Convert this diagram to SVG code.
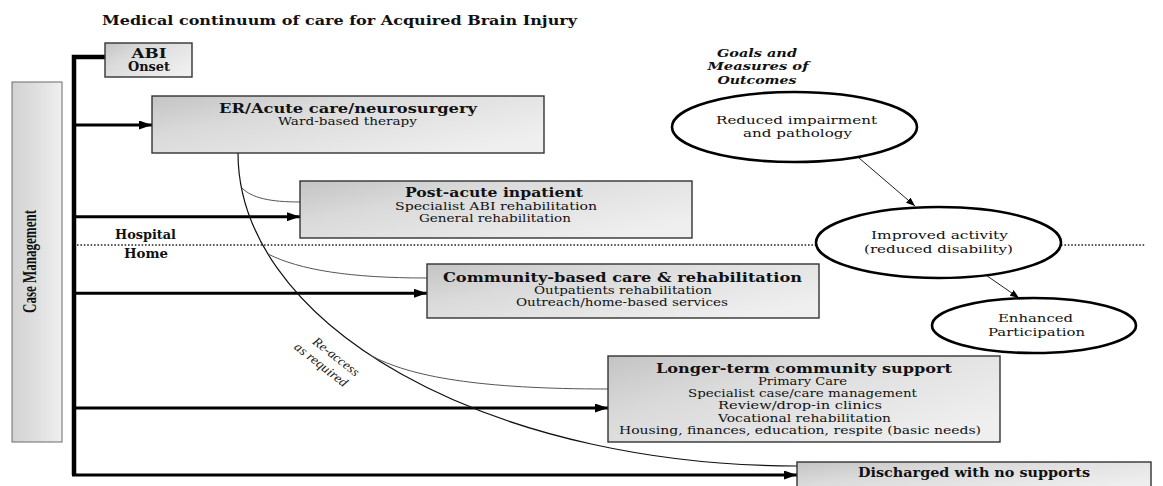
<svg xmlns="http://www.w3.org/2000/svg" width="1163" height="486" viewBox="0 0 1163 486">
<defs>
<linearGradient id="boxGrad" x1="0" y1="0" x2="1" y2="0.7">
<stop offset="0" stop-color="#c4c4c4"/>
<stop offset="0.35" stop-color="#dadada"/>
<stop offset="1" stop-color="#efefef"/>
</linearGradient>
<linearGradient id="cmGrad" x1="0" y1="0" x2="1" y2="0">
<stop offset="0" stop-color="#d2d2d2"/>
<stop offset="0.6" stop-color="#e2e2e2"/>
<stop offset="1" stop-color="#f0f0f0"/>
</linearGradient>
<marker id="bigArrow" markerUnits="userSpaceOnUse" markerWidth="14" markerHeight="9" refX="13" refY="4.5" orient="auto">
<path d="M0,0 L13,4.5 L0,9 z" fill="#000"/>
</marker>
<marker id="smallArrow" markerUnits="userSpaceOnUse" markerWidth="10" markerHeight="7" refX="9" refY="3.5" orient="auto">
<path d="M0,0 L9,3.5 L0,7 z" fill="#000"/>
</marker>
</defs>
<style>
.box{fill:url(#boxGrad);stroke:#333;stroke-width:1.4}
.ell{fill:#fff;stroke:#000;stroke-width:2.6}
.hd{font-family:"DejaVu Serif","Liberation Serif",serif;font-weight:bold;font-size:12px;fill:#111}
.tx{font-family:"DejaVu Serif","Liberation Serif",serif;font-size:11px;fill:#111}
.gl{font-family:"DejaVu Serif","Liberation Serif",serif;font-weight:bold;font-style:italic;font-size:11.5px;fill:#111}
.it{font-family:"Liberation Serif",serif;font-style:italic;font-size:13px;fill:#222}
.thick{stroke:#000;stroke-width:3;fill:none}
.curve{stroke:#111;stroke-width:1.2;fill:none}
.branch{stroke:#555;stroke-width:1;fill:none}
.thin{stroke:#222;stroke-width:1;fill:none}
</style>
<rect width="1163" height="486" fill="#fff"/>

<text id="title" class="hd" x="102" y="25" font-size="13" textLength="475" lengthAdjust="spacingAndGlyphs">Medical continuum of care for Acquired Brain Injury</text>

<g id="connectors">
<path d="M74,475 L74,57 L105,57" stroke="#000" stroke-width="4.5" fill="none"/>
<line class="thick" x1="74" y1="125" x2="152" y2="125" marker-end="url(#bigArrow)"/>
<line class="thick" x1="74" y1="216.7" x2="300" y2="216.7" marker-end="url(#bigArrow)"/>
<line class="thick" x1="74" y1="293.3" x2="427" y2="293.3" marker-end="url(#bigArrow)"/>
<line class="thick" x1="74" y1="408" x2="608" y2="408" marker-end="url(#bigArrow)"/>
<line class="thick" x1="72" y1="475" x2="797" y2="475" marker-end="url(#bigArrow)"/>
<line x1="77" y1="245" x2="816" y2="245" stroke="#222" stroke-width="1.6" stroke-dasharray="1.6 1.8"/>
<line x1="1061" y1="245" x2="1145" y2="245" stroke="#222" stroke-width="1.6" stroke-dasharray="1.6 1.8"/>
<path class="curve" d="M238,153 A559,313 0 0 0 797,466"/>
<path class="branch" d="M242,188 C252,198 270,202 300,202"/>
<path class="branch" d="M268,254 C300,270 350,278 427,278"/>
<path class="branch" d="M370,355 C410,377 480,389 608,389"/>
<line class="thin" x1="859" y1="158" x2="915" y2="206" marker-end="url(#smallArrow)"/>
<line class="thin" x1="980" y1="271" x2="1019" y2="298" marker-end="url(#smallArrow)"/>
</g>

<g id="case-management">
<rect x="12" y="82" width="50" height="360" fill="url(#cmGrad)" stroke="#6a6a6a" stroke-width="1"/>
<text transform="translate(35.5,261.5) rotate(-90)" text-anchor="middle" font-family="Liberation Serif, serif" font-weight="bold" font-size="18" fill="#111" textLength="103" lengthAdjust="spacingAndGlyphs">Case Management</text>
</g>

<g id="abi-onset">
<rect class="box" x="105" y="43" width="87" height="34"/>
<text class="hd" x="149" y="57.5" text-anchor="middle" textLength="35" lengthAdjust="spacingAndGlyphs">ABI</text>
<text class="hd" x="149" y="70.5" text-anchor="middle" textLength="42" lengthAdjust="spacingAndGlyphs">Onset</text>
</g>

<g id="er-acute">
<rect class="box" x="152" y="96" width="392" height="57"/>
<text class="hd" x="348" y="112.5" text-anchor="middle" textLength="258" lengthAdjust="spacingAndGlyphs">ER/Acute care/neurosurgery</text>
<text class="tx" x="347.5" y="125" text-anchor="middle" textLength="139" lengthAdjust="spacingAndGlyphs">Ward-based therapy</text>
</g>

<g id="post-acute">
<rect class="box" x="300" y="181" width="392" height="57"/>
<text class="hd" x="494" y="197" text-anchor="middle" textLength="178" lengthAdjust="spacingAndGlyphs">Post-acute inpatient</text>
<text class="tx" x="496" y="209.5" text-anchor="middle" textLength="202" lengthAdjust="spacingAndGlyphs">Specialist ABI rehabilitation</text>
<text class="tx" x="495" y="221.5" text-anchor="middle" textLength="152" lengthAdjust="spacingAndGlyphs">General rehabilitation</text>
</g>

<g id="hospital-home">
<text class="hd" x="115" y="239" textLength="61" lengthAdjust="spacingAndGlyphs">Hospital</text>
<text class="hd" x="124" y="258" textLength="44" lengthAdjust="spacingAndGlyphs">Home</text>
</g>

<g id="community">
<rect class="box" x="427" y="264" width="392" height="54"/>
<text class="hd" x="622.5" y="281.5" text-anchor="middle" textLength="359" lengthAdjust="spacingAndGlyphs">Community-based care &amp; rehabilitation</text>
<text class="tx" x="623" y="293.5" text-anchor="middle" textLength="178" lengthAdjust="spacingAndGlyphs">Outpatients rehabilitation</text>
<text class="tx" x="622" y="305.5" text-anchor="middle" textLength="212" lengthAdjust="spacingAndGlyphs">Outreach/home-based services</text>
</g>

<g id="re-access">
<text class="it" transform="translate(333.5,360) rotate(38)" text-anchor="middle" textLength="55" lengthAdjust="spacingAndGlyphs">Re-access</text>
<text class="it" transform="translate(318.5,368) rotate(38)" text-anchor="middle" textLength="64" lengthAdjust="spacingAndGlyphs">as required</text>
</g>

<g id="longer-term">
<rect class="box" x="608" y="356" width="392" height="86"/>
<text class="hd" x="804" y="372.5" text-anchor="middle" textLength="296" lengthAdjust="spacingAndGlyphs">Longer-term community support</text>
<text class="tx" x="802.5" y="385" text-anchor="middle" textLength="89" lengthAdjust="spacingAndGlyphs">Primary Care</text>
<text class="tx" x="802.5" y="397" text-anchor="middle" textLength="229" lengthAdjust="spacingAndGlyphs">Specialist case/care management</text>
<text class="tx" x="800" y="409" text-anchor="middle" textLength="164" lengthAdjust="spacingAndGlyphs">Review/drop-in clinics</text>
<text class="tx" x="804.5" y="421.5" text-anchor="middle" textLength="173" lengthAdjust="spacingAndGlyphs">Vocational rehabilitation</text>
<text class="tx" x="800" y="433.5" text-anchor="middle" textLength="362" lengthAdjust="spacingAndGlyphs">Housing, finances, education, respite (basic needs)</text>
</g>

<g id="discharged">
<rect class="box" x="797" y="462" width="354" height="30"/>
<text class="hd" x="974" y="476.5" text-anchor="middle" textLength="232" lengthAdjust="spacingAndGlyphs">Discharged with no supports</text>
</g>

<g id="goals-heading">
<text class="gl" x="757" y="56.5" text-anchor="middle" textLength="80" lengthAdjust="spacingAndGlyphs">Goals and</text>
<text class="gl" x="758" y="70" text-anchor="middle" textLength="101" lengthAdjust="spacingAndGlyphs">Measures of</text>
<text class="gl" x="757" y="83.5" text-anchor="middle" textLength="79" lengthAdjust="spacingAndGlyphs">Outcomes</text>
</g>

<g id="reduced-impairment">
<ellipse class="ell" cx="794.5" cy="127" rx="122.5" ry="35"/>
<text class="tx" x="796.5" y="123.5" font-size="12" text-anchor="middle" textLength="161" lengthAdjust="spacingAndGlyphs">Reduced impairment</text>
<text class="tx" x="797.5" y="137" font-size="12" text-anchor="middle" textLength="109" lengthAdjust="spacingAndGlyphs">and pathology</text>
</g>

<g id="improved-activity">
<ellipse class="ell" cx="938.5" cy="242.5" rx="122.5" ry="35.5"/>
<text class="tx" x="939.5" y="239" font-size="12" text-anchor="middle" textLength="137" lengthAdjust="spacingAndGlyphs">Improved activity</text>
<text class="tx" x="938.5" y="252.5" font-size="12" text-anchor="middle" textLength="149" lengthAdjust="spacingAndGlyphs">(reduced disability)</text>
</g>

<g id="enhanced-participation">
<ellipse class="ell" cx="1034" cy="325.5" rx="102" ry="27.5"/>
<text class="tx" x="1035.5" y="321.5" font-size="12" text-anchor="middle" textLength="75" lengthAdjust="spacingAndGlyphs">Enhanced</text>
<text class="tx" x="1036.5" y="335.5" font-size="12" text-anchor="middle" textLength="97" lengthAdjust="spacingAndGlyphs">Participation</text>
</g>
</svg>
